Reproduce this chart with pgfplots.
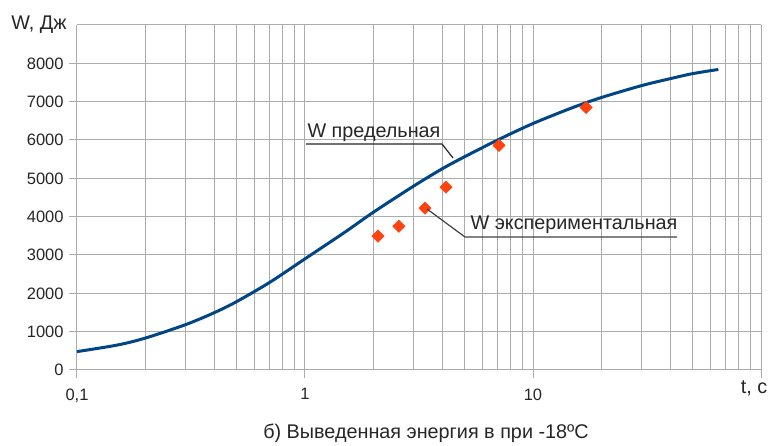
\documentclass[border=0pt]{standalone}
\usepackage{fontspec}
\setmainfont{Liberation Sans}
\usepackage{pgfplots}
\pgfplotsset{compat=1.18}
\definecolor{lineblue}{HTML}{004586}
\definecolor{mkorange}{HTML}{FF420E}
\definecolor{gridgray}{HTML}{ABABAB}
\newcommand{\fs}{\fontsize{16.5}{19}\selectfont}
\newcommand{\fl}{\fontsize{19.8}{23}\selectfont}
\begin{document}
\begin{tikzpicture}[x=1pt,y=1pt]
\useasboundingbox (0,0) rectangle (771,446);
\begin{axis}[at={(77pt,76pt)}, anchor=south west, scale only axis,
  width=684pt, height=345pt,
  xmode=log, xmin=0.1, xmax=100, ymin=0, ymax=9000,
  axis x line=bottom, axis y line=left,
  axis line style={gridgray, line width=1pt, -},
  y axis line style={shorten >=18pt},
  xtick={0.1,1,10,100}, xticklabels={{0,1},1,10,{}},
  minor xtick={0.2,0.3,0.4,0.5,0.6,0.7,0.8,0.9,2,3,4,5,6,7,8,9,20,30,40,50,60,70,80,90},
  ytick={0,1000,2000,3000,4000,5000,6000,7000,8000},
  yticklabels={0,1000,2000,3000,4000,5000,6000,7000,8000},
  grid=both,
  major grid style={gridgray, line width=1pt},
  minor grid style={gridgray, line width=1pt},
  tick style={gridgray, line width=1pt},
  major tick length=8pt, minor tick length=0pt,
  tick align=outside,
  ticklabel style={font=\fs, text=black!85},
  xticklabel style={yshift=-7pt},
  yticklabel style={xshift=-2pt},
  clip=false,
]
\draw[gridgray, line width=1pt] (axis cs:0.1,9000) -- (axis cs:100,9000);
\addplot[lineblue, line width=3pt, smooth, tension=0.5] coordinates {
(0.1,480) (0.15,650) (0.2,835) (0.3,1185) (0.4,1495) (0.5,1780) (0.7,2285)
(1,2900) (1.5,3600) (2,4120) (3,4800) (4,5250) (5,5560) (7,6000) (10,6430)
(15,6850) (20,7110) (30,7420) (40,7600) (50,7730) (65,7840)
};
\addplot[only marks, mark=square*, mark size=4.4pt, mark options={rotate=45, mkorange, draw=mkorange}] coordinates {
(2.09,3490) (2.58,3750) (3.36,4220) (4.15,4770) (7.1,5860) (17.1,6850)
};
\end{axis}
% annotations
\draw[black!85, line width=1.2pt] (306,302) -- (442,302) -- (453,288);
\node[font=\fl, text=black!85] at (374,313) {W предельная};
\draw[black!75, line width=1.2pt] (427,237) -- (465,209) -- (677,209);
\node[font=\fl, text=black!85] at (574,221) {W экспериментальная};
\node[font=\fl, text=black!85] at (39,421) {W, Дж};
\node[font=\fl, text=black!85] at (754,58) {t, с};
\node[font=\fl, text=black!85] at (426,13) {б) Выведенная энергия в при -18ºC};
\end{tikzpicture}
\end{document}
